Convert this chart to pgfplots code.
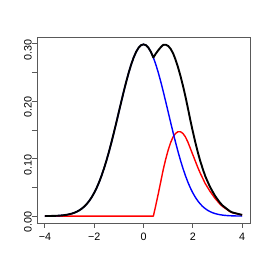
\documentclass[border=0pt]{standalone}
\usepackage{fontspec}
\setmainfont{Liberation Sans}
\usepackage{pgfplots}
\pgfplotsset{compat=1.18}
\usepackage{pgfplotstable}

\pgfplotstableread{
x y
-4.0 0.00010
-3.9 0.00015
-3.8 0.00022
-3.7 0.00032
-3.6 0.00046
-3.5 0.00065
-3.4 0.00092
-3.3 0.00129
-3.2 0.00179
-3.1 0.00245
-3.0 0.00332
-2.9 0.00446
-2.8 0.00594
-2.7 0.00782
-2.6 0.01019
-2.5 0.01315
-2.4 0.01680
-2.3 0.02125
-2.2 0.02661
-2.1 0.03299
-2.0 0.04049
-1.9 0.04921
-1.8 0.05921
-1.7 0.07054
-1.6 0.08319
-1.5 0.09714
-1.4 0.11230
-1.3 0.12853
-1.2 0.14564
-1.1 0.16339
-1.0 0.18148
-0.9 0.19956
-0.8 0.21727
-0.7 0.23419
-0.6 0.24992
-0.5 0.26405
-0.4 0.27620
-0.3 0.28604
-0.2 0.29328
-0.1 0.29771
0.0 0.29921
0.1 0.29771
0.2 0.29328
0.3 0.28604
0.4 0.27620
0.5 0.26405
0.6 0.24992
0.7 0.23419
0.8 0.21727
0.9 0.19956
1.0 0.18148
1.1 0.16339
1.2 0.14564
1.3 0.12853
1.4 0.11230
1.5 0.09714
1.6 0.08319
1.7 0.07054
1.8 0.05921
1.9 0.04921
2.0 0.04049
2.1 0.03299
2.2 0.02661
2.3 0.02125
2.4 0.01680
2.5 0.01315
2.6 0.01019
2.7 0.00782
2.8 0.00594
2.9 0.00446
3.0 0.00332
3.1 0.00245
3.2 0.00179
3.3 0.00129
3.4 0.00092
3.5 0.00065
3.6 0.00046
3.7 0.00032
3.8 0.00022
3.9 0.00015
4.0 0.00010
}\bluedata

\pgfplotstableread{
x y
-4.0 0.0
0.4 0.0
0.5 0.019
0.6 0.039
0.7 0.060
0.8 0.081
0.9 0.099
1.0 0.115
1.1 0.128
1.2 0.138
1.3 0.144
1.4 0.147
1.5 0.147
1.6 0.144
1.7 0.138
1.8 0.129
1.9 0.118
2.0 0.107
2.1 0.096
2.2 0.085
2.3 0.075
2.4 0.066
2.5 0.057
2.6 0.050
2.7 0.043
2.8 0.037
2.9 0.031
3.0 0.026
3.1 0.021
3.2 0.017
3.3 0.014
3.4 0.011
3.5 0.008
3.6 0.006
3.7 0.005
3.8 0.004
3.9 0.003
4.0 0.002
}\reddata

\pgfplotstableread{
x y
-4.0 0.00010
-3.9 0.00015
-3.8 0.00022
-3.7 0.00032
-3.6 0.00046
-3.5 0.00065
-3.4 0.00092
-3.3 0.00129
-3.2 0.00179
-3.1 0.00245
-3.0 0.00332
-2.9 0.00446
-2.8 0.00594
-2.7 0.00782
-2.6 0.01019
-2.5 0.01315
-2.4 0.01680
-2.3 0.02125
-2.2 0.02661
-2.1 0.03299
-2.0 0.04049
-1.9 0.04921
-1.8 0.05921
-1.7 0.07054
-1.6 0.08319
-1.5 0.09714
-1.4 0.11230
-1.3 0.12853
-1.2 0.14564
-1.1 0.16339
-1.0 0.18148
-0.9 0.19956
-0.8 0.21727
-0.7 0.23419
-0.6 0.24992
-0.5 0.26405
-0.4 0.27620
-0.3 0.28604
-0.2 0.29328
-0.1 0.29771
0.0 0.29921
0.1 0.29771
0.2 0.29328
0.3 0.28604
0.4 0.27620
0.5 0.28305
0.6 0.28892
0.7 0.29419
0.8 0.29827
0.9 0.29856
1.0 0.29648
1.1 0.29139
1.2 0.28364
1.3 0.27253
1.4 0.25930
1.5 0.24414
1.6 0.22719
1.7 0.20854
1.8 0.18821
1.9 0.16721
2.0 0.14749
2.1 0.12899
2.2 0.11161
2.3 0.09625
2.4 0.08280
2.5 0.07015
2.6 0.06019
2.7 0.05082
2.8 0.04294
2.9 0.03546
3.0 0.02932
3.1 0.02345
3.2 0.01879
3.3 0.01529
3.4 0.01192
3.5 0.00865
3.6 0.00646
3.7 0.00532
3.8 0.00422
3.9 0.00315
4.0 0.00210
}\blackdata

\begin{document}
\begin{tikzpicture}
\path[use as bounding box] (0,0) rectangle (270bp,270bp);
\begin{axis}[
  at={(37bp,47bp)}, anchor=south west,
  scale only axis, width=213bp, height=186bp,
  xmin=-4.32, xmax=4.32, ymin=-0.012, ymax=0.312,
  axis line style={draw=black!65, line width=0.8bp},
  tick style={draw=black!65, line width=0.8bp},
  tick align=outside, major tick length=5bp,
  xtick pos=bottom, ytick pos=left,
  xtick={-4,-2,0,2,4},
  xticklabels={−4,−2,0,2,4},
  ytick={0,0.05,0.1,0.15,0.2,0.25,0.3},
  yticklabels={0.00,,0.10,,0.20,,0.30},
  ticklabel style={font=\fontsize{10.8}{12}\selectfont, inner sep=0pt},
  xticklabel style={anchor=north, yshift=-4.5bp},
  yticklabel style={rotate=90, anchor=south, xshift=-6bp},
  clip=true,
]
\addplot[red, line width=1.4bp, line join=round] table[x=x,y=y] {\reddata};
\addplot[blue, line width=1.4bp, line join=round] table[x=x,y=y] {\bluedata};
\addplot[black, line width=1.9bp, line join=round] table[x=x,y=y] {\blackdata};
\end{axis}
\end{tikzpicture}
\end{document}
